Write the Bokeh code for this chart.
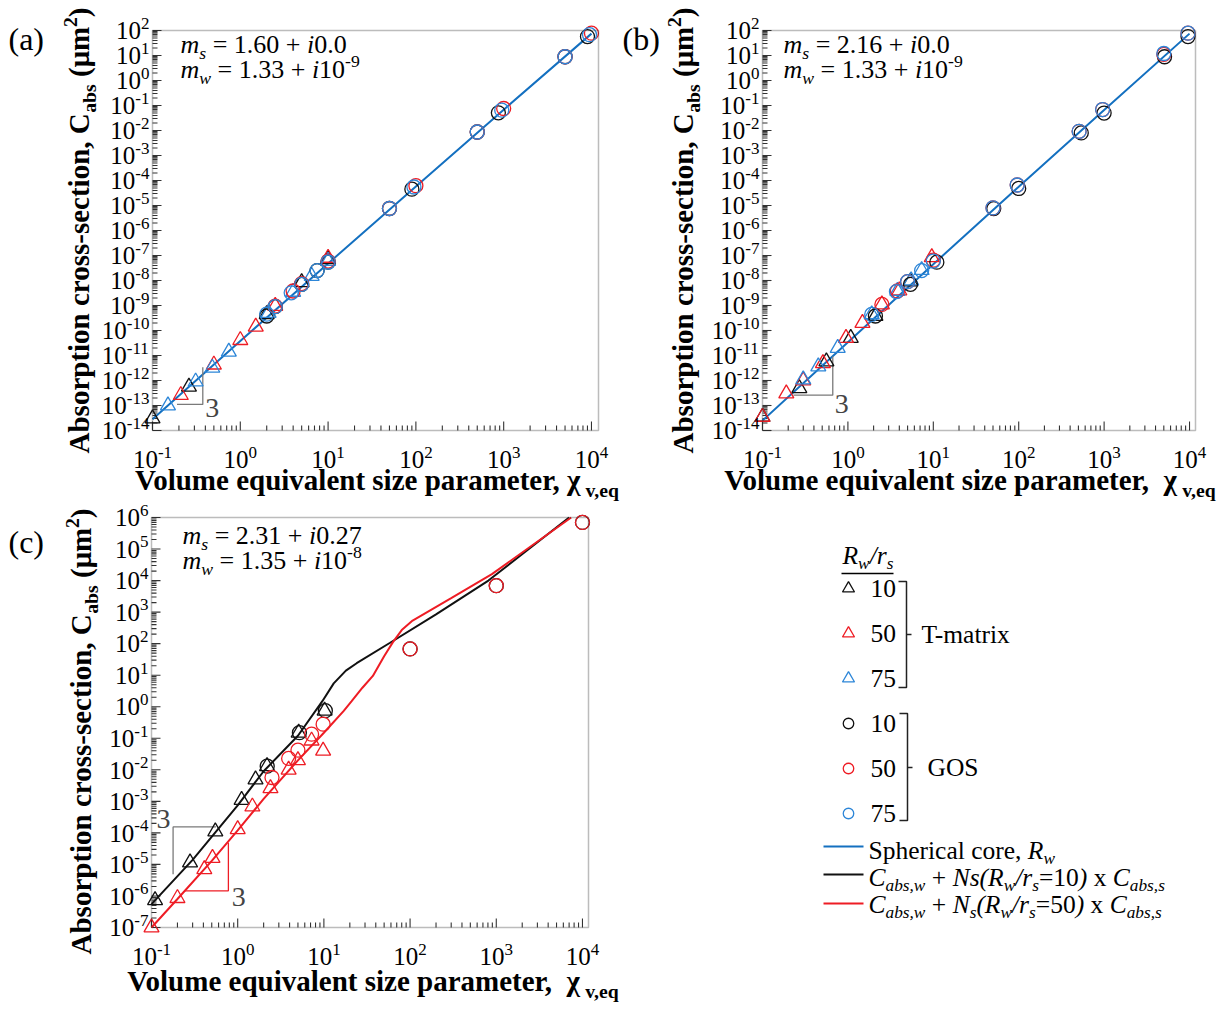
import math
from bokeh.plotting import figure
from bokeh.models import Range1d, Label, BoxAnnotation
from bokeh.layouts import column, row
from bokeh.embed import file_html
from bokeh.resources import INLINE

# ---------------- data ----------------
X_DECADES = [-1, 0, 1, 2, 3, 4]
AB_Y_DECADES = list(range(-14, 3))
C_Y_DECADES = list(range(-7, 7))

# panel (a): m_s = 1.60 + i0.0
a_line_x = [0.1, 1, 10, 100, 1000, 10000]
a_line_y = [2.8e-14, 3.8e-11, 4.8e-8, 5.8e-5, 6.8e-2, 75]
a_tm10_x = [0.1, 0.26, 2.0, 5.0, 10.0]
a_tm10_y = [3e-14, 5.6e-13, 4.5e-10, 8.5e-9, 7e-8]
a_tm50_x = [0.21, 0.5, 1.0, 1.5, 2.5, 10.0]
a_tm50_y = [2.6e-13, 4.3e-12, 4.1e-11, 1.4e-10, 9.5e-10, 8e-8]
a_tm75_x = [0.15, 0.31, 0.48, 0.74, 2.1, 4.0, 6.5, 10.0]
a_tm75_y = [1.0e-13, 9e-13, 3.2e-12, 1.4e-11, 5e-10, 3.5e-9, 1.5e-8, 6e-8]
a_gos10_x = [2.0, 2.5, 5.0, 7.5, 10, 50, 90, 500, 870, 5000, 9000]
a_gos10_y = [3.8e-10, 9e-10, 7e-9, 2.5e-8, 5.5e-8, 7.6e-6, 4.5e-5, 8.7e-3, 5.1e-2, 8.9, 57]
a_gos50_x = [2.5, 4.0, 5.0, 10, 50, 100, 500, 1000, 5000, 10000]
a_gos50_y = [9.5e-10, 3.8e-9, 7.5e-9, 6e-8, 7.6e-6, 6.2e-5, 8.7e-3, 7.6e-2, 8.9, 78]
a_gos75_x = [2.0, 2.5, 3.8, 5.0, 7.5, 10, 50, 95, 500, 950, 5000, 9500]
a_gos75_y = [4.5e-10, 9e-10, 3.2e-9, 7e-9, 2.5e-8, 5.5e-8, 7.6e-6, 5.5e-5, 8.7e-3, 6.5e-2, 8.9, 68]

# panel (b): m_s = 2.16 + i0.0
b_line_x = [0.1, 1, 10, 100, 1000, 10000]
b_line_y = [2.5e-14, 3.4e-11, 4.5e-8, 5.6e-5, 6.6e-2, 75]
b_tm10_x = [0.1, 0.27, 0.56, 1.08, 2.1, 5.4]
b_tm10_y = [3.5e-14, 4.9e-13, 5.7e-12, 5e-11, 3.8e-10, 9e-9]
b_tm50_x = [0.1, 0.19, 0.30, 0.51, 0.95, 1.48, 2.5, 4.0, 9.6]
b_tm50_y = [3.5e-14, 3e-13, 1e-12, 4.9e-12, 5e-11, 2e-10, 1.1e-9, 4e-9, 8.5e-8]
b_tm75_x = [0.3, 0.45, 0.76, 1.9, 3.8, 5.5, 7.3]
b_tm75_y = [1.1e-12, 3.6e-12, 2e-11, 4.4e-10, 3.8e-9, 1e-8, 2.6e-8]
b_gos10_x = [2.1, 5.4, 11, 51, 100, 540, 1000, 5100, 9600]
b_gos10_y = [3.8e-10, 7e-9, 5.4e-8, 7.5e-6, 4.8e-5, 8e-3, 5e-2, 8.9, 57]
b_gos50_x = [2.5, 3.8, 5.0, 10, 50, 96, 510, 960, 5000, 9600]
b_gos50_y = [1.1e-9, 3.8e-9, 9e-9, 6.5e-8, 8e-6, 6.6e-5, 9.3e-3, 6.9e-2, 11, 78]
b_gos75_x = [1.9, 3.7, 5.0, 7.3, 10, 50, 96, 510, 960, 5000, 9600]
b_gos75_y = [4.4e-10, 3.6e-9, 9e-9, 2.5e-8, 6e-8, 8e-6, 6.6e-5, 9.3e-3, 6.9e-2, 12, 78]

# panel (c): m_s = 2.31 + i0.27
c_n10_x = [0.1, 0.3, 1, 2, 5, 9.6, 13, 18, 24, 58, 200, 810, 7000]
c_n10_y = [5.5e-7, 1.4e-5, 7.5e-4, 9e-3, 0.12, 1.5, 5.5, 14, 24, 105, 850, 1e4, 1e6]
c_n50_x = [0.1, 0.2, 0.5, 1, 2, 5, 10, 17, 21, 28, 37, 50, 63, 80, 107, 300, 890, 7400]
c_n50_y = [1e-7, 8e-7, 1.3e-5, 1.2e-4, 1.2e-3, 2e-2, 0.15, 0.74, 1.5, 4.0, 9.5, 40, 110, 270, 540, 2800, 1.6e4, 1e6]
c_tm10_x = [0.11, 0.28, 0.55, 1.11, 1.61, 2.19, 5.1, 10.2]
c_tm10_y = [7.3e-7, 1.15e-5, 1.1e-4, 1.1e-3, 4.9e-3, 1.3e-2, 0.15, 0.74]
c_tm50_x = [0.1, 0.2, 0.41, 0.51, 1.0, 1.48, 2.4, 3.9, 5.0, 7.2, 9.8]
c_tm50_y = [1e-7, 8.5e-7, 7e-6, 1.6e-5, 1.3e-4, 6.8e-4, 2.6e-3, 1e-2, 2e-2, 8.4e-2, 4e-2]
c_gos10_x = [2.2, 5.2, 10.4, 100, 1000, 10000]
c_gos10_y = [1.3e-2, 0.15, 0.75, 68, 6.9e3, 7e5]
c_gos50_x = [2.5, 3.9, 5.0, 7.2, 9.8, 100, 1000, 10000]
c_gos50_y = [5.7e-3, 2.3e-2, 4.2e-2, 0.135, 0.28, 68, 6.9e3, 7e5]

# slope-3 guides
a_guide_x = [0.19, 0.374, 0.374]
a_guide_y = [1.1e-13, 1.1e-13, 3.4e-12]
b_guide_x = [0.23, 0.665, 0.665]
b_guide_y = [2.6e-13, 2.6e-13, 9.1e-12]
c_guide10_x = [0.56, 0.178, 0.178]
c_guide10_y = [1.55e-4, 1.55e-4, 4.9e-6]
c_guide50_x = [0.24, 0.78, 0.78]
c_guide50_y = [1.45e-6, 1.45e-6, 4.9e-5]

LEGEND_RATIOS = ["10", "50", "75"]

# ---------------- style ----------------
FONT = "Liberation Serif"
BLACK = "#111111"
RED = "#ee1c24"
BLUE = "#2d86d8"
LINE_BLUE = "#1470c0"
GUIDE = "#7a7a7a"
FRAME = "#222222"
BASE_CORR = 0.32   # baseline correction (fraction of font size)

W_REG = {' ': 250, '(': 333, ')': 333, '+': 564, ',': 250, '-': 333, '.': 250, '/': 278, '=': 564,
         'A': 722, 'C': 667, 'G': 722, 'N': 722, 'O': 722, 'R': 667, 'S': 556, 'T': 611,
         'a': 444, 'b': 500, 'c': 444, 'e': 444, 'h': 500, 'i': 278, 'l': 278, 'm': 778, 'n': 500,
         'o': 500, 'p': 500, 'q': 500, 'r': 333, 's': 389, 't': 278, 'u': 500, 'v': 500, 'w': 722,
         'x': 500, 'z': 444}
W_IT = {' ': 250, '(': 333, ')': 333, '+': 675, ',': 250, '-': 333, '.': 250, '/': 278, '=': 675,
        'C': 667, 'N': 667, 'R': 611, 'a': 500, 'b': 500, 'c': 444, 'e': 444, 'i': 278, 'm': 722,
        'r': 389, 's': 389, 'w': 667, 'x': 444}
W_BD = {' ': 250, '(': 333, ')': 333, ',': 250, '-': 333, 'A': 722, 'C': 722, 'V': 722, 'a': 500,
        'b': 556, 'c': 444, 'e': 444, 'h': 556, 'i': 278, 'l': 278, 'm': 833, 'n': 556, 'o': 500,
        'p': 556, 'q': 556, 'r': 444, 's': 389, 't': 333, 'u': 556, 'v': 500, 'z': 444, 'μ': 556,
        'χ': 460}


def twidth(s, style, size):
    table = W_BD if "bold" in style else (W_IT if "italic" in style else W_REG)
    return sum(table.get(ch, 500) for ch in s) * size / 1000.0


def rich(p, x, y, parts, size, dx=0.0, dy=0.0, angle=0.0, color="black", align="left"):
    items = []
    total = 0.0
    for text, style, role in parts:
        fs = size if role == "n" else size * 0.68
        w = twidth(text, style, fs)
        items.append((text, style, role, fs, w))
        total += w
    adv = {"left": 0.0, "center": -total / 2.0, "right": -total}[align]
    for text, style, role, fs, w in items:
        shift = {"n": 0.0, "sub": -0.22 * size, "sup": 0.40 * size}[role] + BASE_CORR * fs
        if angle == 0:
            xo, yo = dx + adv, dy + shift
        else:
            xo, yo = dx - shift, dy + adv
        p.add_layout(Label(x=x, y=y, text=text.replace(" ", "\u00a0"), x_offset=xo, y_offset=yo,
                           angle=angle, text_font=FONT, text_font_style=style,
                           text_font_size=f"{fs:.1f}px", text_align="left",
                           text_baseline="alphabetic", text_color=color))
        adv += w


TICK = 25
AXIS = 29
NOTE = 26


def make_panel(fx0, fy0, fw, fh, box, xlog, y_dec, ylab_x, ylab_shift, xlab_y, xlab_cx, xlabel_gap,
               letter, letter_xy, note_x, note_y, ms, mw, mw_exp):
    L, R, T, B = box
    ylog = (y_dec[0], y_dec[-1])
    ppx = (R - L) / (xlog[1] - xlog[0])
    ppy = (B - T) / (ylog[1] - ylog[0])
    xs = xlog[0] - (L - fx0) / ppx
    xe = xlog[1] + (fx0 + fw - R) / ppx
    ye = ylog[1] + (T - fy0) / ppy
    ys = ylog[0] - (fy0 + fh - B) / ppy
    p = figure(width=fw, height=fh, x_axis_type="log", y_axis_type="log",
               x_range=Range1d(10 ** xs, 10 ** xe), y_range=Range1d(10 ** ys, 10 ** ye),
               title=None, x_axis_location=None, y_axis_location=None, min_border=0,
               output_backend="svg", toolbar_location=None)
    p.grid.visible = False
    p.outline_line_color = None
    x0, x1 = 10 ** xlog[0], 10 ** xlog[1]
    y0, y1 = 10.0 ** ylog[0], 10.0 ** ylog[1]
    # plot box
    p.add_layout(BoxAnnotation(left=x0, right=x1, bottom=y0, top=y1, fill_alpha=0,
                               line_color=FRAME, line_width=1.5))
    # ticks (inside, bottom and left)
    mx = [10.0 ** k for k in X_DECADES]
    nx = [m * 10.0 ** k for k in X_DECADES[:-1] for m in range(2, 10)]
    my = [10.0 ** k for k in y_dec]
    ny = [m * 10.0 ** k for k in y_dec[:-1] for m in range(2, 10)]
    for xs_, ln in ((mx, 9), (nx, 5)):
        p.segment(x0=xs_, y0=[y0] * len(xs_), x1=xs_, y1=[10 ** (ylog[0] + ln / ppy)] * len(xs_),
                  line_color="#333333", line_width=1.1)
    for ys_, ln in ((my, 9), (ny, 5)):
        p.segment(x0=[x0] * len(ys_), y0=ys_, x1=[10 ** (xlog[0] + ln / ppx)] * len(ys_), y1=ys_,
                  line_color="#333333", line_width=1.1)
    # tick labels
    for k in X_DECADES:
        rich(p, 10.0 ** k, y0, [("10", "normal", "n"), (str(k), "normal", "sup")], TICK,
             dy=-37, align="center")
    for k in y_dec:
        rich(p, x0, 10.0 ** k, [("10", "normal", "n"), (str(k), "normal", "sup")], TICK,
             dx=-3, dy=-0.33 * TICK, align="right")
    # axis titles
    ycen = 10 ** ((ylog[0] + ylog[1]) / 2.0)
    rich(p, x0, ycen, [("Absorption cross-section, C", "bold", "n"), ("abs", "bold", "sub"),
                       (" (μm", "bold", "n"), ("2", "bold", "sup"), (")", "bold", "n")],
         AXIS, dx=ylab_x - L, dy=-ylab_shift, angle=math.pi / 2, align="center")
    rich(p, x0, y0, [("Volume equivalent size parameter," + xlabel_gap + "χ", "bold", "n"),
                     ("v,eq", "bold", "sub")], AXIS, dx=xlab_cx - L, dy=B - xlab_y, align="center")
    # panel letter
    rich(p, x0, y0, [(letter, "normal", "n")], 32, dx=letter_xy[0] - L, dy=B - letter_xy[1])
    # refractive index note
    rich(p, x0, y0, [("m", "italic", "n"), ("s", "italic", "sub"),
                     (" = " + ms[0] + " + ", "normal", "n"), ("i", "italic", "n"),
                     (ms[1], "normal", "n")], NOTE, dx=note_x - L, dy=B - note_y)
    rich(p, x0, y0, [("m", "italic", "n"), ("w", "italic", "sub"),
                     (" = " + mw + " + ", "normal", "n"), ("i", "italic", "n"),
                     ("10", "normal", "n"), (mw_exp, "normal", "sup")], NOTE,
         dx=note_x - L, dy=B - note_y - 25)
    return p


def markers(p, x, y, kind, color):
    p.scatter(x, y, marker=kind, size=15 if kind == "triangle" else 14, fill_color=None,
              line_color=color, line_width=1.3)


def three(p, x, y):
    p.add_layout(Label(x=x, y=y, text="3", text_font=FONT, text_font_size="28px",
                       text_baseline="middle", text_align="left"))


ROW1_H = 501
ROW2_H = 506

# ---------------- panel (a) ----------------
pa = make_panel(0, 0, 620, ROW1_H, (152, 598, 30, 430), (-1, 4.08), AB_Y_DECADES, 88, 0, 489, 377, " ",
                "(a)", (8, 49), 180, 52, ("1.60", "0.0"), "1.33", "-9")
pa.line(a_line_x, a_line_y, line_color=LINE_BLUE, line_width=2)
pa.line(a_guide_x, a_guide_y, line_color=GUIDE, line_width=1.3)
markers(pa, a_tm10_x, a_tm10_y, "triangle", BLACK)
markers(pa, a_tm50_x, a_tm50_y, "triangle", RED)
markers(pa, a_tm75_x, a_tm75_y, "triangle", BLUE)
markers(pa, a_gos10_x, a_gos10_y, "circle", BLACK)
markers(pa, a_gos50_x, a_gos50_y, "circle", RED)
markers(pa, a_gos75_x, a_gos75_y, "circle", BLUE)
three(pa, 0.40, 7.6e-14)

# ---------------- panel (b) ----------------
pb = make_panel(620, 0, 608, ROW1_H, (762, 1195, 30, 430), (-1, 4.07), AB_Y_DECADES, 692, 0, 489, 970, "  ",
                "(b)", (622, 49), 783, 52, ("2.16", "0.0"), "1.33", "-9")
pb.line(b_line_x, b_line_y, line_color=LINE_BLUE, line_width=2)
pb.line(b_guide_x, b_guide_y, line_color=GUIDE, line_width=1.3)
markers(pb, b_tm10_x, b_tm10_y, "triangle", BLACK)
markers(pb, b_tm50_x, b_tm50_y, "triangle", RED)
markers(pb, b_tm75_x, b_tm75_y, "triangle", BLUE)
markers(pb, b_gos10_x, b_gos10_y, "circle", BLACK)
markers(pb, b_gos50_x, b_gos50_y, "circle", RED)
markers(pb, b_gos75_x, b_gos75_y, "circle", BLUE)
three(pb, 0.70, 1.2e-13)

# ---------------- panel (c) ----------------
pc = make_panel(0, ROW1_H, 620, ROW2_H, (151, 588, 517, 927), (-1, 4.07), C_Y_DECADES, 90, 9, 990, 373, "  ",
                "(c)", (8, 552), 182, 543, ("2.31", "0.27"), "1.35", "-8")
pc.line(c_n10_x, c_n10_y, line_color=BLACK, line_width=2)
pc.line(c_n50_x, c_n50_y, line_color=RED, line_width=2)
pc.line(c_guide10_x, c_guide10_y, line_color=GUIDE, line_width=1.3)
pc.line(c_guide50_x, c_guide50_y, line_color=RED, line_width=1.3)
markers(pc, c_tm10_x, c_tm10_y, "triangle", BLACK)
markers(pc, c_tm50_x, c_tm50_y, "triangle", RED)
markers(pc, c_gos10_x, c_gos10_y, "circle", BLACK)
markers(pc, c_gos50_x, c_gos50_y, "circle", RED)
three(pc, 0.114, 2.7e-4)
three(pc, 0.853, 9.3e-7)

# ---------------- legend panel (local px = page px - (620, 504)) ----------------
LW, LH = 608, ROW2_H
pl = figure(width=LW, height=LH, x_range=Range1d(0, LW), y_range=Range1d(LH - 3, -3), title=None,
            x_axis_location=None, y_axis_location=None, output_backend="svg",
            toolbar_location=None, min_border=0)
pl.grid.visible = False
pl.outline_line_color = None

rich(pl, 222, 59, [("R", "italic", "n"), ("w", "italic", "sub"), ("/r", "italic", "n"),
                   ("s", "italic", "sub")], 25.5)
pl.line([221, 273], [69, 69], line_color="black", line_width=1.5)

marker_rows = [84, 129, 174, 219, 264, 309]
row_colors = [BLACK, RED, BLUE, BLACK, RED, BLUE]
for i, (yy, col) in enumerate(zip(marker_rows, row_colors)):
    kind = "triangle" if i < 3 else "circle"
    pl.scatter([228], [yy], marker=kind, size=12 if kind == "triangle" else 10.5,
               fill_color=None, line_color=col, line_width=1.3)
    rich(pl, 250, yy + 8.5, [(LEGEND_RATIOS[i % 3], "normal", "n")], 25.5)

for top, bot, mid, lab, bx, lx in [(77, 183, 130, "T-matrix", 286, 301), (209, 316, 263, "GOS", 287, 307)]:
    pl.line([bx - 8, bx, bx, bx - 8], [top, top, bot, bot], line_color=FRAME, line_width=1.5)
    pl.line([bx, bx + 5], [mid, mid], line_color=FRAME, line_width=1.5)
    rich(pl, lx, mid + 8.5, [(lab, "normal", "n")], 25.5)

leg_lines = [(342, LINE_BLUE, 354,
              [("Spherical core, ", "normal", "n"), ("R", "italic", "n"), ("w", "italic", "sub")]),
             (370, BLACK, 381,
              [("C", "italic", "n"), ("abs,w", "italic", "sub"), (" + ", "normal", "n"),
               ("Ns(R", "italic", "n"), ("w", "italic", "sub"), ("/r", "italic", "n"),
               ("s", "italic", "sub"), ("=10", "normal", "n"), (")", "italic", "n"),
               (" x ", "normal", "n"), ("C", "italic", "n"), ("abs,s", "italic", "sub")]),
             (399, RED, 408,
              [("C", "italic", "n"), ("abs,w", "italic", "sub"), (" + ", "normal", "n"),
               ("N", "italic", "n"), ("s", "italic", "sub"), ("(R", "italic", "n"),
               ("w", "italic", "sub"), ("/r", "italic", "n"), ("s", "italic", "sub"),
               ("=50", "normal", "n"), (")", "italic", "n"), (" x ", "normal", "n"),
               ("C", "italic", "n"), ("abs,s", "italic", "sub")])]
for yl, col, yb, parts in leg_lines:
    pl.line([203, 243], [yl, yl], line_color=col, line_width=2)
    rich(pl, 248, yb, parts, 25.5)

layout = column(row(pa, pb), row(pc, pl))
open("out.html", "w").write(file_html(layout, INLINE))
